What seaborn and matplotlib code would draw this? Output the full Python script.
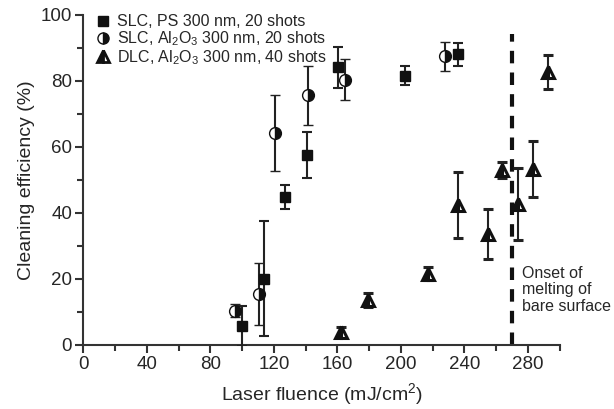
import matplotlib
matplotlib.use("Agg")
import matplotlib.pyplot as plt
from matplotlib.lines import Line2D
import seaborn as sns

# values
ps_x = [99.7, 113.9, 126.9, 140.6, 160.5, 202.5, 236.0]
ps_y = [5.7, 20.0, 44.7, 57.5, 84.0, 81.5, 88.0]
ps_err = [6.0, 17.4, 3.6, 6.9, 6.3, 2.9, 3.5]

al20_x = [95.5, 110.6, 120.6, 141.6, 164.7, 227.6]
al20_y = [10.4, 15.4, 64.1, 75.5, 80.3, 87.3]
al20_err = [2.0, 9.4, 11.6, 9.0, 6.3, 4.5]

dlc_x = [162.0, 179.4, 217.1, 236.0, 254.5, 263.7, 273.8, 283.2, 292.6]
dlc_y = [4.0, 13.6, 21.6, 42.4, 33.6, 53.0, 42.7, 53.2, 82.5]
dlc_err = [1.5, 2.0, 2.0, 10.0, 7.6, 2.5, 10.8, 8.4, 5.1]

melt_x = 269.6
melt_top = 94

labels = ["SLC, PS 300 nm, 20 shots",
          "SLC, Al$_2$O$_3$ 300 nm, 20 shots",
          "DLC, Al$_2$O$_3$ 300 nm, 40 shots"]

sns.set_style("ticks")
plt.rcParams['font.family'] = ['Liberation Sans', 'DejaVu Sans']
plt.rcParams['mathtext.fontset'] = 'custom'
plt.rcParams['mathtext.rm'] = 'Liberation Sans'
plt.rcParams['mathtext.it'] = 'Liberation Sans:italic'

fig = plt.figure(figsize=(6.14, 4.09), dpi=100)
ax = fig.add_axes([0.1357, 0.1565, 0.776, 0.808])

ebkw = dict(ls='none', ecolor='#222222', elinewidth=1.5, capsize=3.5,
            capthick=1.5, mec='#111111', zorder=3)

ax.errorbar(ps_x, ps_y, yerr=ps_err, marker='s', ms=7, mfc='#111111', **ebkw)
ax.errorbar(al20_x, al20_y, yerr=al20_err, marker='o', ms=8.5, fillstyle='right',
            mfc='#111111', markerfacecoloralt='white', mew=1.0, **ebkw)
ax.errorbar(dlc_x, dlc_y, yerr=dlc_err, marker='^', ms=9, fillstyle='left',
            mfc='#111111', markerfacecoloralt='white', mew=2.2, **ebkw)

ax.plot([melt_x, melt_x], [0, melt_top], color='#111111', lw=3,
        dashes=(3, 2.2), zorder=2)
ax.text(276.5, 24, "Onset of\nmelting of\nbare surface", fontsize=11.5,
        va='top', ha='left', linespacing=1.15)

handles = [
    Line2D([], [], ls='none', marker='s', ms=7, mfc='#111111', mec='#111111'),
    Line2D([], [], ls='none', marker='o', ms=8, fillstyle='right', mfc='#111111',
           markerfacecoloralt='white', mec='#111111'),
    Line2D([], [], ls='none', marker='^', ms=8.5, fillstyle='left', mfc='#111111',
           markerfacecoloralt='white', mec='#111111', mew=2.0),
]
ax.legend(handles, labels, loc='upper left', bbox_to_anchor=(0.012, 1.025),
          frameon=False, fontsize=11.5, handlelength=0.8, handletextpad=0.45,
          labelspacing=0.0, borderaxespad=0.3, borderpad=0.2)

ax.set_xlim(0, 300)
ax.set_ylim(0, 100)
ax.set_xticks(range(0, 281, 40))
ax.set_xticks(range(20, 301, 40), minor=True)
ax.set_yticks(range(0, 101, 20))
ax.set_yticks(range(10, 100, 20), minor=True)
ax.tick_params(axis='both', which='major', labelsize=13.5, length=6, width=1.5,
               color='#333333', direction='out', pad=2)
ax.tick_params(axis='both', which='minor', length=4, width=1.5, color='#333333',
               direction='out')
for s in ['left', 'bottom']:
    ax.spines[s].set_linewidth(1.5)
    ax.spines[s].set_color('#333333')
sns.despine(ax=ax)

ax.set_xlabel("Laser fluence (mJ/cm$^2$)", fontsize=14, labelpad=6)
ax.set_ylabel("Cleaning efficiency (%)", fontsize=14, labelpad=4)

fig.savefig("out.png", dpi=100)
